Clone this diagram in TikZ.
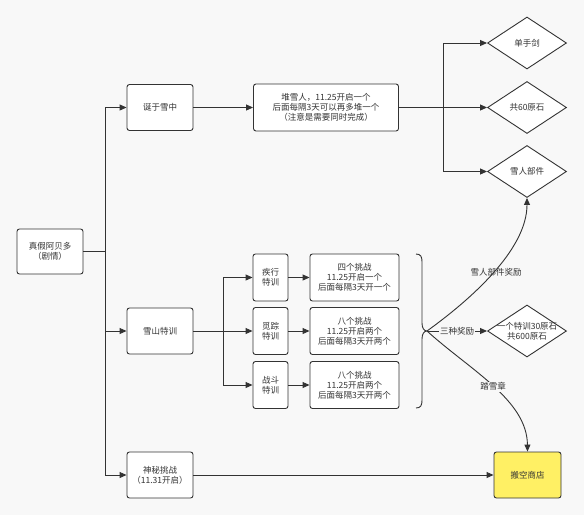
\documentclass[tikz,border=0pt]{standalone}
\usepackage{fontspec}
\newfontfamily\cjk{Noto Sans CJK SC}
\usetikzlibrary{shapes.geometric,arrows.meta}
\definecolor{bg}{RGB}{248,248,248}
\definecolor{ln}{RGB}{51,51,51}
\definecolor{shopy}{RGB}{255,240,100}
\begin{document}
\begin{tikzpicture}[x=1pt,y=-1pt,
  font=\cjk\fontsize{8.5}{9.8}\selectfont, text=ln, line width=0.9pt,
  box/.style={draw=ln, fill=white, rounded corners=2.5pt, inner sep=0pt, align=center},
  lv/.style={box, minimum width=66pt, minimum height=46pt},
  tr/.style={box, minimum width=35pt, minimum height=47pt},
  ch/.style={box, minimum width=89pt, minimum height=47pt},
  dia/.style={diamond, draw=ln, fill=white, inner sep=0pt, minimum width=79pt, minimum height=52pt},
  arr/.style={draw=ln, -{Triangle[length=7pt,width=6pt]}},
  lnk/.style={draw=ln},
  lbl/.style={fill=bg, inner sep=1pt},
  lblclear/.style={inner sep=1pt}]
\fill[bg] (0,0) rectangle (584,515);
\useasboundingbox (0,0) rectangle (584,515);

% nodes
\node[box, minimum width=66pt, minimum height=45pt] (root) at (50,251.5) {真假阿贝多\\（剧情）};
\node[lv] (xz) at (160,107.5) {诞于雪中};
\node[box, minimum width=145pt, minimum height=47pt] (dxr) at (326,107.5) {堆雪人，11.25开启一个\\后面每隔3天可以再多堆一个\\（注意是需要同时完成）};
\node[dia] (d1) at (527,43) {单手剑};
\node[dia] (d2) at (527,107.5) {共60原石};
\node[dia] (d3) at (527,171.5) {雪人部件};

\node[lv] (xs) at (160,331) {雪山特训};
\node[tr] (t1) at (270.5,277.5) {疾行\\特训};
\node[tr] (t2) at (270.5,331) {觅踪\\特训};
\node[tr] (t3) at (270.5,385) {战斗\\特训};
\node[ch] (c1) at (354.5,277.5) {四个挑战\\11.25开启一个\\后面每隔3天开一个};
\node[ch] (c2) at (354.5,331) {八个挑战\\11.25开启两个\\后面每隔3天开两个};
\node[ch] (c3) at (354.5,385) {八个挑战\\11.25开启两个\\后面每隔3天开两个};
\node[dia] (d4) at (527,331) {};
\node[align=center, inner sep=0pt] (d4t) at (d4.center) {一个特训30原石\\共600原石};

\node[lv] (sm) at (160,475) {神秘挑战\\（11.31开启）};
\node[box, fill=shopy, minimum width=67pt, minimum height=46pt] (shop) at (527.5,475) {搬空商店};

% trunk
\coordinate (j0) at (105,251.5);
\draw[lnk] (root.east) -- (j0);
\draw[arr] (j0) |- (xz.west);
\draw[arr] (j0) |- (xs.west);
\draw[arr] (j0) |- (sm.west);

% snowman branch
\draw[arr] (xz) -- (dxr);
\coordinate (j1) at (443,107.5);
\draw[lnk] (dxr.east) -- (j1);
\draw[arr] (j1) |- (d1.west);
\draw[arr] (j1) -- (d2.west);
\draw[arr] (j1) |- (d3.west);

% training branch
\coordinate (j2) at (223,331);
\draw[lnk] (xs.east) -- (j2);
\draw[arr] (j2) |- (t1.west);
\draw[arr] (j2) -- (t2.west);
\draw[arr] (j2) |- (t3.west);
\draw[arr] (t1) -- (c1);
\draw[arr] (t2) -- (c2);
\draw[arr] (t3) -- (c3);

% brace
\coordinate (tip) at (427,331);
\draw[lnk] (416,254) .. controls (421,254) and (422,257) .. (422,262) -- (422,323)
  .. controls (422,328) and (424,331) .. (tip)
  .. controls (424,331) and (422,334) .. (422,339) -- (422,400)
  .. controls (422,405) and (421,408) .. (416,408);

\draw[arr] (tip) -- node[lbl] (l1) {三种奖励} (d4.west);
\draw[arr] (tip) .. controls (470,300) and (527,250) .. node[lblclear, xshift=3pt] (l2) {雪人部件奖励} (d3.south);
\draw[arr] (tip) .. controls (470,370) and (527,400) .. node[lbl] (l3) {踏雪章} (shop.north);

\draw[arr] (sm) -- (shop);
\end{tikzpicture}
\end{document}
